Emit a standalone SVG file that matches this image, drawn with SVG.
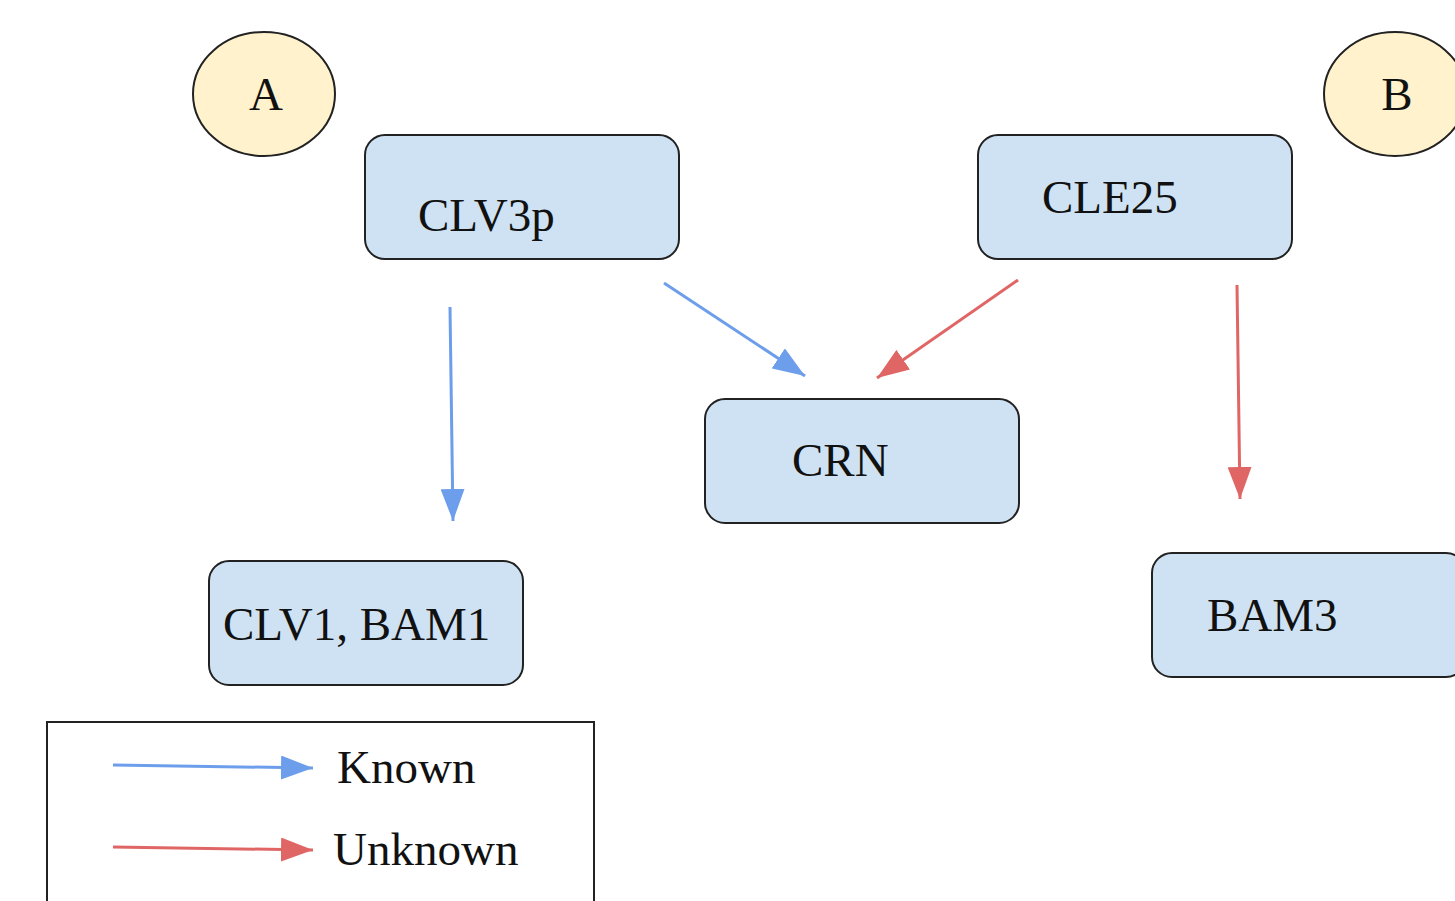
<svg xmlns="http://www.w3.org/2000/svg" width="1455" height="901" viewBox="0 0 1455 901">
<defs>
<style>
.box{fill:#cfe2f3;stroke:#222;stroke-width:2}
.ell{fill:#fff2cc;stroke:#222;stroke-width:2}
.t{font-family:"Liberation Serif","Times New Roman",serif;font-size:47px;fill:#111}
.blue{stroke:#6d9eeb;stroke-width:3;fill:none}
.red{stroke:#e06666;stroke-width:3;fill:none}
</style>
<marker id="ab" viewBox="0 0 32 24" refX="32" refY="12" markerWidth="32" markerHeight="24" markerUnits="userSpaceOnUse" orient="auto"><path d="M0,0 L32,12 L0,24 Z" fill="#6d9eeb"/></marker>
<marker id="ar" viewBox="0 0 32 24" refX="32" refY="12" markerWidth="32" markerHeight="24" markerUnits="userSpaceOnUse" orient="auto"><path d="M0,0 L32,12 L0,24 Z" fill="#e06666"/></marker>
</defs>
<rect width="1455" height="901" fill="#fff"/>
<g id="nodeA"><ellipse class="ell" cx="264" cy="94" rx="71" ry="62"/><text class="t" x="266" y="110" text-anchor="middle">A</text></g>
<g id="nodeB"><ellipse class="ell" cx="1395" cy="94" rx="71" ry="62"/><text class="t" x="1397" y="110" text-anchor="middle">B</text></g>
<g id="clv3p"><rect class="box" x="365" y="135" width="314" height="124" rx="20"/><text class="t" x="418" y="231">CLV3p</text></g>
<g id="cle25"><rect class="box" x="978" y="135" width="314" height="124" rx="20"/><text class="t" x="1042" y="213">CLE25</text></g>
<g id="crn"><rect class="box" x="705" y="399" width="314" height="124" rx="20"/><text class="t" x="792" y="476">CRN</text></g>
<g id="clv1bam1"><rect class="box" x="209" y="561" width="314" height="124" rx="20"/><text class="t" x="223" y="640">CLV1, BAM1</text></g>
<g id="bam3"><rect class="box" x="1152" y="553" width="314" height="124" rx="20"/><text class="t" x="1207" y="631">BAM3</text></g>
<g id="connectors">
<line class="blue" x1="450" y1="307" x2="453" y2="521" marker-end="url(#ab)"/>
<line class="blue" x1="664" y1="283" x2="805" y2="376" marker-end="url(#ab)"/>
<line class="red" x1="1018" y1="280" x2="877" y2="378" marker-end="url(#ar)"/>
<line class="red" x1="1237" y1="285" x2="1240" y2="499" marker-end="url(#ar)"/>
</g>
<g id="legend">
<rect x="47" y="722" width="547" height="200" fill="none" stroke="#222" stroke-width="2"/>
<line class="blue" x1="113" y1="765" x2="313" y2="768" marker-end="url(#ab)"/>
<text class="t" x="337" y="783">Known</text>
<line class="red" x1="113" y1="847" x2="313" y2="850" marker-end="url(#ar)"/>
<text class="t" x="333" y="865">Unknown</text>
</g>
</svg>
